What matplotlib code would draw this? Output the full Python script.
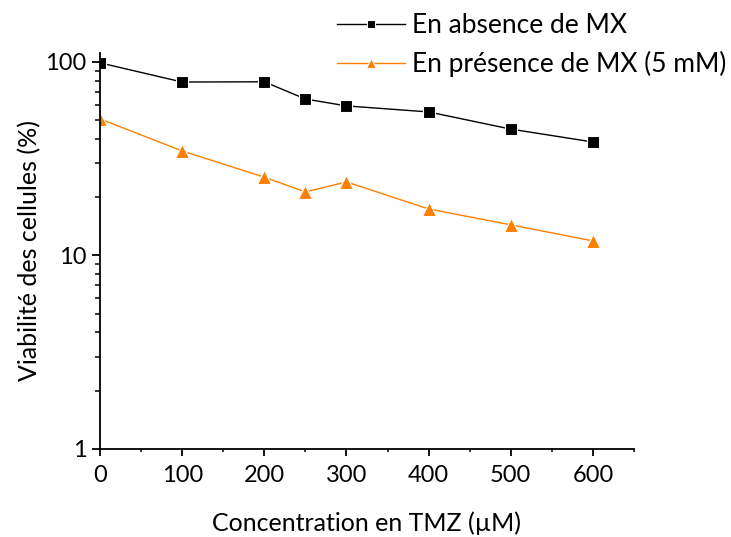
import matplotlib
matplotlib.use("Agg")
import matplotlib.pyplot as plt
from matplotlib.ticker import LogLocator, NullFormatter, MultipleLocator

plt.rcParams['font.family'] = ['Lato', 'DejaVu Sans']

conc = [0, 100, 200, 250, 300, 400, 500, 600]
sans_mx = [99, 78.8, 79, 64.4, 59.3, 55.2, 45, 38.6]
avec_mx = [50.8, 34.7, 25.4, 21.3, 24, 17.4, 14.4, 11.9]
label1 = "En absence de MX"
label2 = "En présence de MX (5 mM)"
yticks = [1, 10, 100]
xticks = [0, 100, 200, 300, 400, 500, 600]

fig = plt.figure(figsize=(7.31, 5.37), dpi=100)
ax = fig.add_axes([0.1368, 0.1639, 0.7305, 0.7374])

ax.plot(conc, sans_mx, color='black', lw=1, marker='s', ms=8,
        mec='white', mew=0.8, label=label1)
ax.plot(conc, avec_mx, color='#FF7F00', lw=1, marker='^', ms=10,
        mec='white', mew=0.8, label=label2)

ax.set_yscale('log')
ax.set_ylim(1, 111.3)
ax.set_xlim(0, 650)
ax.set_yticks(yticks)
ax.set_yticklabels([str(v) for v in yticks])
ax.yaxis.set_minor_locator(LogLocator(base=10, subs=range(2, 10)))
ax.yaxis.set_minor_formatter(NullFormatter())
ax.set_xticks(xticks)
ax.set_xticklabels([str(v) for v in xticks])
ax.xaxis.set_minor_locator(MultipleLocator(50))

for s in ['top', 'right']:
    ax.spines[s].set_visible(False)
for s in ['left', 'bottom']:
    ax.spines[s].set_linewidth(1.3)

ax.tick_params(which='both', direction='out', labelsize=17)
ax.tick_params(axis='x', which='major', length=4.8, width=1.3, pad=7)
ax.tick_params(axis='x', which='minor', length=2.4, width=1.1)
ax.tick_params(axis='y', which='major', length=5.8, width=1.3, pad=4)
ax.tick_params(axis='y', which='minor', length=3.6, width=1.1)

ax.set_xlabel("Concentration en TMZ (µM)", fontsize=18, labelpad=18)
ax.set_ylabel("Viabilité des cellules (%)", fontsize=18, labelpad=3)

leg = fig.legend(loc='upper left', bbox_to_anchor=(0.461, 0.976), frameon=False,
                 fontsize=19, handlelength=2.58, markerscale=0.65,
                 labelspacing=0.5, handletextpad=0.27,
                 borderaxespad=0, borderpad=0)

fig.savefig("out.png", dpi=100)
